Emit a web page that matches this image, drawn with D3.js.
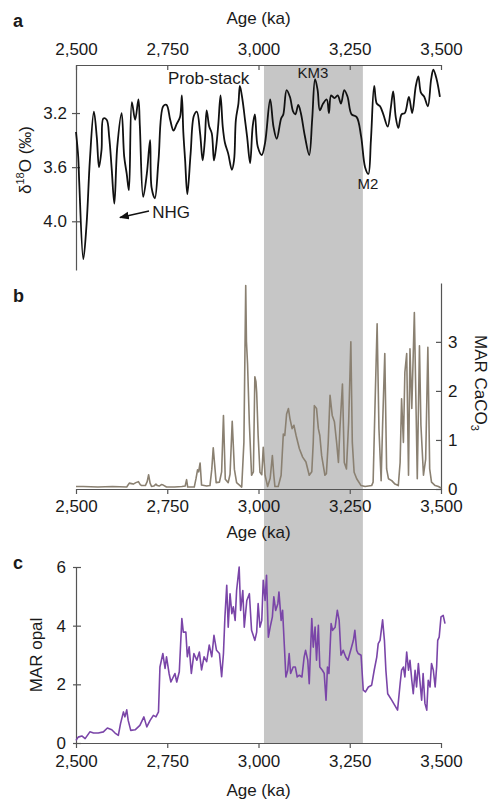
<!DOCTYPE html>
<html><head><meta charset="utf-8">
<script src="https://cdn.jsdelivr.net/npm/d3@7"></script>
<style>
body{margin:0;background:#fff}
text{font-family:"Liberation Sans",Arial,Helvetica,sans-serif;fill:#1a1a1a}
</style>
</head><body>
<svg id="chart" width="491" height="803"></svg>
<script>
// ---------- DATA ----------
const ageTicks = [2500, 2750, 3000, 3250, 3500];
const d18OTicks = [3.2, 3.6, 4.0];
const caco3Ticks = [0, 1, 2, 3];
const opalTicks = [0, 2, 4, 6];
const km3Band = [3015, 3286];

const ageA = [2500,2506,2509,2520,2529,2538,2549,2557,2563,2570,2575,2584,2591,2598,2605,2613,2625,2632,2639,2645,2653,2662,2671,2675,2684,2694,2703,2707,2716,2726,2739,2748,2758,2767,2776,2785,2790,2794,2799,2805,2814,2823,2831,2840,2847,2853,2858,2865,2872,2878,2884,2890,2896,2902,2908,2917,2927,2933,2938,2945,2949,2956,2963,2969,2977,2984,2990,2998,3009,3018,3032,3041,3050,3062,3068,3077,3086,3095,3101,3109,3116,3127,3139,3147,3155,3162,3168,3177,3187,3193,3199,3208,3217,3226,3235,3244,3255,3269,3281,3292,3301,3308,3317,3324,3333,3342,3354,3363,3369,3376,3383,3392,3401,3412,3421,3431,3438,3445,3454,3464,3473,3479,3488,3497];
const d18O = [3.34,3.52,3.72,4.28,4.02,3.55,3.19,3.38,3.60,3.47,3.24,3.25,3.38,3.62,3.87,3.45,3.20,3.52,3.65,3.77,3.12,3.25,3.10,3.30,3.82,3.65,3.40,3.75,3.83,3.55,3.15,3.14,3.25,3.33,3.28,3.23,3.07,3.34,3.55,3.80,3.50,3.22,3.19,3.35,3.55,3.40,3.18,3.30,3.35,3.55,3.45,3.28,3.07,3.30,3.42,3.50,3.62,3.55,3.25,3.13,3.00,3.10,3.25,3.38,3.57,3.30,3.21,3.45,3.51,3.42,3.10,3.30,3.39,3.24,3.21,3.03,3.08,3.19,3.21,3.14,3.20,3.37,3.51,3.25,2.95,3.03,3.18,3.13,3.10,3.20,3.07,3.09,3.07,3.13,3.03,3.08,3.21,3.23,3.37,3.60,3.65,3.40,3.00,3.13,3.15,3.21,3.30,3.15,3.04,3.23,3.31,3.21,3.20,3.08,3.20,3.00,2.93,3.05,3.08,3.15,2.95,2.88,2.95,3.08];

const ageB = [2500,2520,2560,2600,2639,2646,2652,2657,2664,2671,2676,2680,2690,2695,2699,2703,2707,2713,2719,2723,2728,2734,2739,2748,2770,2790,2799,2803,2806,2824,2829,2833,2836,2840,2844,2858,2867,2872,2876,2881,2884,2893,2899,2904,2909,2917,2922,2928,2934,2940,2954,2960,2965,2967,2970,2975,2981,2986,2990,2993,2995,2999,3004,3009,3013,3018,3025,3032,3038,3042,3045,3054,3062,3068,3072,3077,3082,3086,3092,3097,3103,3112,3121,3130,3139,3146,3150,3153,3159,3164,3168,3173,3182,3186,3191,3196,3202,3208,3214,3219,3223,3230,3235,3241,3247,3253,3257,3262,3269,3281,3292,3310,3314,3319,3325,3330,3336,3340,3346,3351,3356,3365,3374,3383,3388,3392,3397,3401,3406,3411,3415,3420,3427,3432,3435,3441,3445,3452,3458,3464,3469,3474,3484,3493,3500];
const marCaCO3 = [0.05,0.05,0.04,0.05,0.04,0.12,0.11,0.10,0.13,0.15,0.09,0.07,0.07,0.15,0.29,0.12,0.05,0.06,0.10,0.07,0.06,0.09,0.08,0.04,0.04,0.05,0.06,0.19,0.04,0.04,0.22,0.39,0.35,0.53,0.08,0.06,0.07,0.40,0.84,0.40,0.13,0.14,0.35,1.50,0.20,0.13,0.30,1.38,0.40,0.13,0.04,0.95,4.15,3.00,2.55,1.33,0.28,0.35,2.29,2.19,1.97,1.09,0.34,0.29,0.85,0.28,0.05,0.22,0.68,0.28,0.05,0.05,0.28,1.12,1.09,1.53,1.64,1.44,1.23,1.30,1.09,0.82,0.65,0.55,0.28,0.35,0.95,1.70,1.64,1.23,1.09,0.68,0.28,0.31,0.95,1.91,1.50,1.37,0.95,0.54,1.23,2.14,0.54,0.41,1.37,3.00,0.95,0.34,0.21,0.07,0.05,0.07,0.14,1.64,3.37,1.23,0.17,1.30,2.76,0.41,0.21,0.17,0.10,0.07,0.54,1.84,0.95,2.38,2.76,0.28,2.86,1.64,3.60,1.50,0.21,2.92,1.30,0.28,0.61,2.89,0.41,0.14,0.07,0.05,0.02];

const ageC = [2500,2506,2516,2525,2538,2548,2561,2575,2586,2598,2607,2616,2622,2630,2634,2639,2643,2650,2662,2675,2686,2694,2703,2712,2719,2726,2730,2738,2744,2748,2755,2760,2771,2776,2783,2790,2794,2801,2805,2810,2816,2823,2831,2838,2844,2851,2858,2865,2872,2878,2885,2893,2899,2904,2908,2913,2917,2922,2927,2931,2936,2940,2947,2951,2957,2961,2968,2975,2981,2990,2995,2999,3004,3009,3013,3018,3022,3027,3032,3038,3042,3047,3053,3056,3062,3066,3071,3075,3080,3084,3088,3095,3101,3106,3112,3119,3125,3129,3135,3139,3146,3150,3155,3159,3164,3168,3175,3180,3185,3189,3193,3199,3203,3210,3216,3221,3226,3232,3239,3245,3255,3260,3264,3269,3273,3281,3287,3293,3301,3310,3317,3324,3328,3333,3340,3345,3349,3354,3365,3381,3388,3392,3397,3401,3406,3411,3415,3420,3424,3429,3433,3438,3442,3447,3451,3456,3461,3465,3470,3474,3479,3484,3488,3491,3495,3500,3506,3511];
const marOpal = [0.09,0.20,0.24,0.15,0.38,0.34,0.34,0.38,0.51,0.45,0.34,0.26,0.66,1.06,0.89,1.13,0.77,0.43,0.45,0.60,0.89,0.55,0.77,0.94,0.89,1.06,2.59,3.05,2.54,2.94,2.37,2.08,2.37,2.08,2.43,4.24,3.78,3.78,2.94,3.28,2.37,3.05,2.82,3.10,2.49,2.94,2.77,3.34,2.94,3.67,3.16,3.05,2.26,3.05,4.30,5.38,3.95,5.09,4.41,4.64,4.18,5.20,6.00,4.52,5.20,3.95,4.86,5.09,3.84,3.50,3.78,4.75,3.95,4.18,5.55,4.86,5.72,3.61,3.95,4.30,4.98,4.52,4.75,5.15,4.18,4.52,3.27,2.25,2.48,3.05,2.37,2.59,2.59,2.25,2.31,2.25,2.93,3.16,2.82,2.02,4.24,3.27,3.95,2.82,4.01,2.59,2.48,2.37,1.46,2.59,2.37,4.07,3.84,3.95,4.52,4.18,2.99,3.16,2.93,2.82,3.27,3.50,3.84,3.16,3.05,2.99,1.80,1.74,1.91,1.97,2.48,2.93,3.39,3.50,4.20,3.50,2.48,1.68,1.46,1.12,2.02,2.48,2.59,2.25,3.10,2.48,2.82,2.14,1.68,2.48,1.91,2.71,2.14,1.46,2.37,1.35,1.12,2.14,1.91,2.71,2.48,1.91,2.59,3.50,3.61,4.30,4.35,4.07];

// ---------- SCALES ----------
const svg = d3.select("#chart");
const x = d3.scaleLinear().domain([2500, 3500]).range([76, 441]);
const yA = d3.scaleLinear().domain([2.845, 4.36]).range([65, 270]);
const yB = d3.scaleLinear().domain([0, 4.2]).range([489, 283]);
const yC = d3.scaleLinear().domain([0, 6]).range([743, 567]);

const AX = "#555";
const FS = 17;

// band
svg.append("rect")
  .attr("x", x(km3Band[0])).attr("width", x(km3Band[1]) - x(km3Band[0]))
  .attr("y", yA.range()[0]).attr("height", yC.range()[0] - yA.range()[0])
  .attr("fill", "#c6c6c6");

function styleAxis(g) {
  g.select(".domain").attr("stroke", AX).attr("stroke-width", 1.2);
  g.selectAll(".tick line").attr("stroke", AX).attr("stroke-width", 1.2);
  g.selectAll(".tick text").attr("font-size", FS).attr("fill", "#1a1a1a")
    .attr("font-family", '"Liberation Sans",Arial,sans-serif');
}

// ---------- PANEL A ----------
const fmtAge = d3.format(",");
const fmtInt = d3.format("d");
svg.append("g").attr("transform", `translate(0,${yA.range()[0]})`)
  .call(d3.axisTop(x).tickValues(ageTicks).tickFormat(fmtAge).tickSizeInner(-5).tickSizeOuter(0).tickPadding(10))
  .call(styleAxis);
svg.append("g").attr("transform", `translate(${x.range()[0]},0)`)
  .call(d3.axisLeft(yA).tickValues(d18OTicks).tickFormat(d3.format(".1f")).tickSizeInner(4).tickSizeOuter(0).tickPadding(5))
  .call(styleAxis)
  .call(g => g.selectAll(".tick line").attr("x2", -4).attr("x1", 4));

const lineA = d3.line().x((d, i) => x(ageA[i])).y(d => yA(d)).curve(d3.curveCatmullRom.alpha(0.5));
svg.append("path").datum(d18O).attr("d", lineA)
  .attr("fill", "none").attr("stroke", "#111").attr("stroke-width", 1.8).attr("stroke-linejoin", "round");

svg.append("text").attr("x", 13).attr("y", 27).attr("font-size", 18).attr("font-weight", "bold").text("a");
svg.append("text").attr("x", x(3000)).attr("y", 24).attr("text-anchor", "middle").attr("font-size", FS).text("Age (ka)");
svg.append("text").attr("x", x(2752)).attr("y", 84).attr("font-size", FS).text("Prob-stack");
svg.append("text").attr("x", x(3149)).attr("y", 78).attr("text-anchor", "middle").attr("font-size", 15).text("KM3");
svg.append("text").attr("x", x(3300)).attr("y", 189).attr("text-anchor", "middle").attr("font-size", 15).text("M2");
svg.append("text").attr("x", x(2720) - 4).attr("y", 218).attr("font-size", FS).text("NHG");

const defs = svg.append("defs");
defs.append("marker").attr("id", "arr").attr("viewBox", "0 0 10 10").attr("refX", 9).attr("refY", 5)
  .attr("markerWidth", 7).attr("markerHeight", 7).attr("orient", "auto-start-reverse")
  .append("path").attr("d", "M0,1 L10,5 L0,9 z").attr("fill", "#111");
svg.append("line").attr("x1", 149).attr("y1", 211).attr("x2", 120).attr("y2", 217.5)
  .attr("stroke", "#111").attr("stroke-width", 1.4).attr("marker-end", "url(#arr)");

const yLabA = svg.append("text").attr("transform", "translate(31,160) rotate(-90)")
  .attr("text-anchor", "middle").attr("font-size", FS);
yLabA.append("tspan").text("δ");
yLabA.append("tspan").attr("font-size", 11).attr("dy", -7).text("18");
yLabA.append("tspan").attr("dy", 7).text("O (‰)");

// ---------- PANEL B ----------
svg.append("g").attr("transform", `translate(0,${yB.range()[0]})`)
  .call(d3.axisBottom(x).tickValues(ageTicks).tickFormat(fmtAge).tickSizeInner(5).tickSizeOuter(0).tickPadding(6))
  .call(styleAxis);
svg.append("g").attr("transform", `translate(${x.range()[1]},0)`)
  .call(d3.axisRight(yB).tickValues(caco3Ticks).tickFormat(fmtInt).tickSizeInner(-5).tickSizeOuter(0).tickPadding(7))
  .call(styleAxis);

const lineB = d3.line().x((d, i) => x(ageB[i])).y(d => yB(d));
svg.append("path").datum(marCaCO3).attr("d", lineB)
  .attr("fill", "none").attr("stroke", "#8a8071").attr("stroke-width", 1.6).attr("stroke-linejoin", "round");

svg.append("text").attr("x", 13).attr("y", 302).attr("font-size", 18).attr("font-weight", "bold").text("b");
svg.append("text").attr("x", x(3000)).attr("y", 538).attr("text-anchor", "middle").attr("font-size", FS).text("Age (ka)");
const yLabB = svg.append("text").attr("transform", "translate(475,335) rotate(90)").attr("font-size", FS);
yLabB.append("tspan").text("MAR CaCO");
yLabB.append("tspan").attr("font-size", 11).attr("dy", 4).text("3");

// ---------- PANEL C ----------
svg.append("g").attr("transform", `translate(0,${yC.range()[0]})`)
  .call(d3.axisBottom(x).tickValues(ageTicks).tickFormat(fmtAge).tickSizeInner(5).tickSizeOuter(0).tickPadding(7))
  .call(styleAxis);
svg.append("g").attr("transform", `translate(${x.range()[0]},0)`)
  .call(d3.axisLeft(yC).tickValues(opalTicks).tickFormat(fmtInt).tickSizeInner(4).tickSizeOuter(0).tickPadding(6))
  .call(styleAxis)
  .call(g => g.selectAll(".tick line").attr("x2", -3).attr("x1", 5));

const lineC = d3.line().x((d, i) => x(ageC[i])).y(d => yC(d));
svg.append("path").datum(marOpal).attr("d", lineC)
  .attr("fill", "none").attr("stroke", "#7a45a8").attr("stroke-width", 1.6).attr("stroke-linejoin", "round");

svg.append("text").attr("x", 13).attr("y", 569).attr("font-size", 18).attr("font-weight", "bold").text("c");
svg.append("text").attr("x", x(3000)).attr("y", 796).attr("text-anchor", "middle").attr("font-size", FS).text("Age (ka)");
svg.append("text").attr("transform", "translate(42,655) rotate(-90)").attr("text-anchor", "middle")
  .attr("font-size", FS).text("MAR opal");
</script>
</body></html>
